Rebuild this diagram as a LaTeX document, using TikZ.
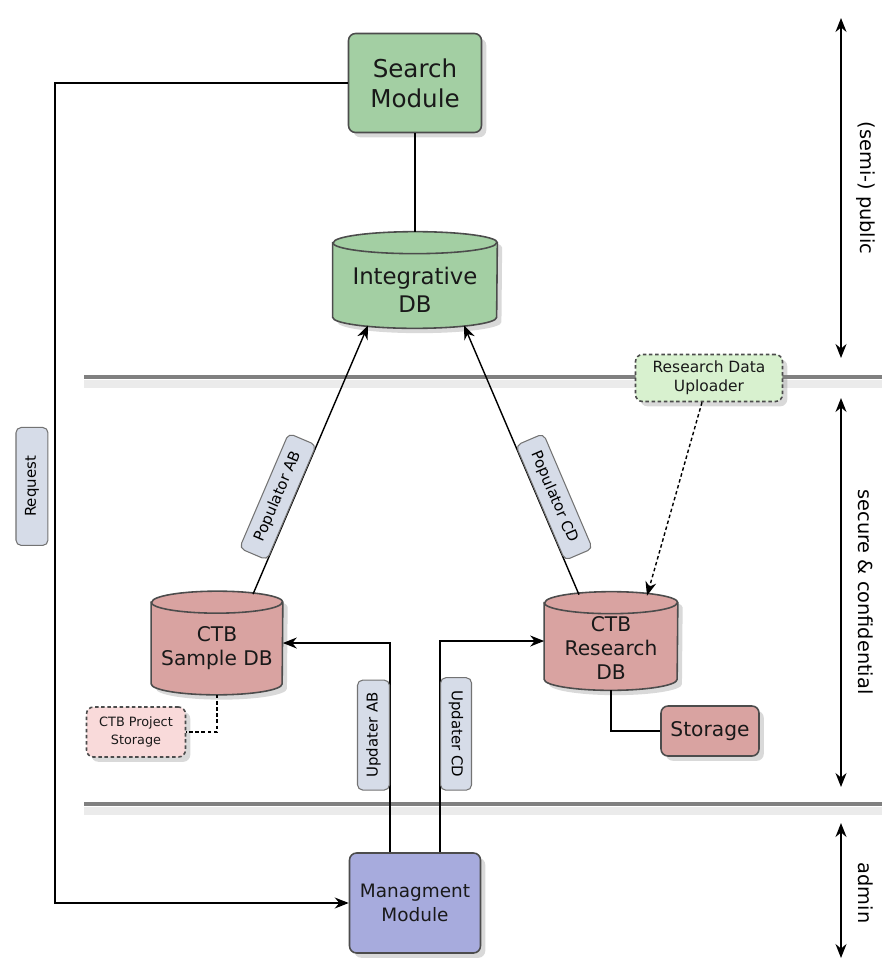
\documentclass[tikz,border=0pt]{standalone}
\usepackage{fontspec}
\setmainfont{DejaVu Sans}
\usetikzlibrary{arrows.meta,calc,shadows}
\definecolor{modgreen}{HTML}{A3CFA3}
\definecolor{upgreen}{HTML}{D8F1CF}
\definecolor{dbred}{HTML}{D9A3A1}
\definecolor{projred}{HTML}{F9DADA}
\definecolor{admblue}{HTML}{A7ABDD}
\definecolor{lblgray}{HTML}{D6DCE8}
\tikzset{
  module/.style={draw=black!70, line width=0.9pt, rounded corners=4pt, align=center, text=black!90, drop shadow={opacity=0.3}},
  dbframe/.style={inner sep=0pt},
  dbshape/.style={draw=black!70, line width=0.9pt},
  dbtext/.style={align=center, text=black!90, inner sep=0pt},
  tag/.style={draw=black!55, fill=lblgray, rounded corners=3pt, line width=0.6pt, font=\fontsize{8.5}{10}\selectfont, inner sep=1pt},
  link/.style={line width=0.8pt},
  arr/.style={link, -{Stealth[length=2.8mm,width=2.2mm]}},
  zonearrow/.style={line width=0.8pt, {Stealth[length=2.8mm,width=2.2mm]}-{Stealth[length=2.8mm,width=2.2mm]}},
  zone/.style={font=\fontsize{11}{13}\selectfont, rotate=-90},
  divider/.style={draw=black!50, line width=2.2pt},
}
% cylinder round a frame node: name, fill, x radius, y radius
\newcommand{\dbdraw}[4]{%
  \filldraw[dbshape, fill=#2, drop shadow={opacity=0.3}] ($(#1.north west)+(0,-#4)$) -- ($(#1.south west)+(0,#4)$)
    arc[start angle=180, end angle=360, x radius=#3, y radius=#4] -- ($(#1.north east)+(0,-#4)$)
    arc[start angle=0, end angle=180, x radius=#3, y radius=#4] -- cycle;
  \draw[dbshape] ($(#1.north west)+(0,-#4)$) arc[start angle=180, end angle=360, x radius=#3, y radius=#4];
}
\begin{document}
\begin{tikzpicture}[x=0.02cm, y=-0.02cm]
  \useasboundingbox (0,0) rectangle (882,960);

  % zone dividers
  \draw[black!8, line width=5pt] (84,384) -- (882,384);
  \draw[divider] (84,377) -- (882,377);
  \draw[black!8, line width=5pt] (84,811) -- (882,811);
  \draw[divider] (84,804) -- (882,804);

  % modules and databases
  \node[module, fill=modgreen, minimum width=2.66cm, minimum height=1.98cm, font=\fontsize{14}{17}\selectfont] (search) at (415,83) {Search\\Module};
  \node[dbframe, minimum width=3.28cm, minimum height=1.92cm] (intdb) at (415,280) {};
  \dbdraw{intdb}{modgreen}{1.64cm}{0.22cm}
  \node[dbtext, font=\fontsize{13}{16}\selectfont] (intdbtext) at ($(intdb.center)+(0,10)$) {Integrative\\DB};
  \node[module, fill=upgreen, dashed, dash pattern=on 2pt off 1.5pt, minimum width=2.94cm, minimum height=0.94cm, font=\fontsize{8.8}{11}\selectfont] (uploader) at (709,378) {Research Data\\Uploader};
  \node[dbframe, minimum width=2.62cm, minimum height=2.06cm] (sampledb) at (217,643) {};
  \dbdraw{sampledb}{dbred}{1.31cm}{0.22cm}
  \node[dbtext, font=\fontsize{11.5}{14}\selectfont] (sampledbtext) at ($(sampledb.center)+(0,5)$) {CTB\\Sample DB};
  \node[dbframe, minimum width=2.66cm, minimum height=1.96cm] (resdb) at (611,641) {};
  \dbdraw{resdb}{dbred}{1.33cm}{0.22cm}
  \node[dbtext, font=\fontsize{11.5}{13.8}\selectfont] (resdbtext) at ($(resdb.center)+(0,7)$) {CTB\\Research\\DB};
  \node[module, fill=projred, dashed, dash pattern=on 2pt off 1.5pt, minimum width=1.98cm, minimum height=1cm, font=\fontsize{7.3}{10}\selectfont] (projstore) at (136,732) {CTB Project\\Storage};
  \node[module, fill=dbred, minimum width=1.96cm, minimum height=1cm, font=\fontsize{11.5}{14}\selectfont] (storage) at (710,731) {Storage};
  \node[module, fill=admblue, minimum width=2.62cm, minimum height=2cm, font=\fontsize{10.5}{14}\selectfont] (mgmt) at (415,903) {Managment\\Module};

  % connectors
  \draw[link] (search.south) -- (intdb.north);
  \draw[arr] ($(sampledb.north)+(36,3)$) -- node[tag, sloped, above, pos=0.34, minimum width=2.5cm, minimum height=0.6cm] {Populator AB} ($(intdb.south)+(-47,-3)$);
  \draw[arr] ($(resdb.north)+(-32,3)$) -- node[tag, sloped, above, pos=0.34, minimum width=2.5cm, minimum height=0.6cm] {Populator CD} ($(intdb.south)+(49,-3)$);
  \draw[arr, dashed, dash pattern=on 2pt off 1.5pt] ($(uploader.south)+(-7,0)$) -- ($(resdb.north)+(36,4)$);
  \draw[arr] ($(mgmt.north)+(-25,0)$) |- node[tag, pos=0.28, rotate=90, anchor=south, minimum width=2.2cm, minimum height=0.64cm] {Updater AB} (sampledb.east);
  \draw[arr] ($(mgmt.north)+(25,0)$) |- node[tag, pos=0.28, rotate=-90, anchor=south, minimum width=2.25cm, minimum height=0.62cm] {Updater CD} (resdb.west);
  \draw[link, dashed, dash pattern=on 2pt off 1.5pt] (sampledb.south) |- (projstore.east);
  \draw[link] (resdb.south) |- (storage.west);
  \coordinate (reqbend) at (55,83);
  \draw[arr] (search.west) -- (reqbend) |- node[tag, pos=0.246, rotate=90, anchor=south, outer sep=4pt, minimum width=2.36cm, minimum height=0.64cm] {Request} (mgmt.west);

  % zones
  \coordinate (pubtop) at (841,18);
  \coordinate (pubbot) at (841,358);
  \coordinate (sectop) at (841,398);
  \coordinate (secbot) at (841,787);
  \coordinate (admtop) at (841,823);
  \coordinate (admbot) at (841,958);
  \draw[zonearrow] (pubtop) -- (pubbot);
  \draw[zonearrow] (sectop) -- (secbot);
  \draw[zonearrow] (admtop) -- (admbot);
  \node[zone] (public) at (866,188) {(semi-) public};
  \node[zone] (secure) at (866,592) {secure \& confidential};
  \node[zone] (admin) at (866,893) {admin};
\end{tikzpicture}
\end{document}
